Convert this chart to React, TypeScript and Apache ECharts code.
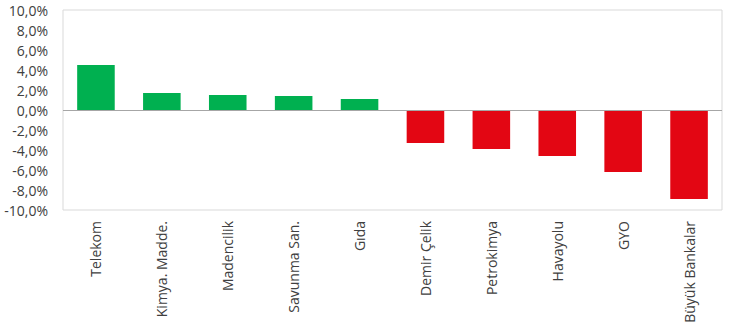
import React, { useEffect, useRef } from "react";
import * as echarts from "echarts";

const categories = ["Telekom", "Kimya. Madde.", "Madencilik", "Savunma San.", "Gıda", "Demir Çelik", "Petrokimya", "Havayolu", "GYO", "Büyük Bankalar"];
const values = [4.5, 1.7, 1.5, 1.4, 1.1, -3.3, -3.9, -4.6, -6.2, -8.9];
const yMin = -10;
const yMax = 10;
const yStep = 2;

const GREEN = "#00B050";
const RED = "#E30613";

export default function App() {
  const ref = useRef<HTMLDivElement>(null);
  useEffect(() => {
    document.body.style.margin = "0";
    const chart = echarts.init(ref.current!, null, { renderer: "svg" });
    chart.setOption({
      animation: false,
      backgroundColor: "#ffffff",
      textStyle: { fontFamily: "Open Sans" },
      grid: { left: 63, right: 18, top: 10, bottom: 120, show: true, borderColor: "#d9d9d9", borderWidth: 1 },
      xAxis: {
        type: "category",
        data: categories,
        axisLine: { show: false },
        axisTick: { show: false },
        axisLabel: { rotate: 90, color: "#404040", fontSize: 14, margin: 11, fontFamily: "Open Sans", interval: 0 },
        splitLine: { show: false },
      },
      yAxis: {
        type: "value",
        min: yMin,
        max: yMax,
        interval: yStep,
        axisLine: { show: false },
        axisTick: { show: false },
        splitLine: { show: false },
        axisLabel: {
          color: "#404040",
          fontSize: 14,
          margin: 15,
          fontFamily: "Open Sans",
          formatter: (v: number) => v.toFixed(1).replace(".", ",") + "%",
        },
      },
      series: [
        {
          type: "bar",
          data: values.map((v) => ({ value: v, itemStyle: { color: v >= 0 ? GREEN : RED } })),
          barWidth: "57%",
          markLine: {
            silent: true,
            symbol: "none",
            label: { show: false },
            lineStyle: { color: "#a6a6a6", width: 1, type: "solid" },
            data: [{ yAxis: 0 }],
          },
        },
      ],
    });
    return () => chart.dispose();
  }, []);
  return <div ref={ref} style={{ width: 740, height: 330 }} />;
}
